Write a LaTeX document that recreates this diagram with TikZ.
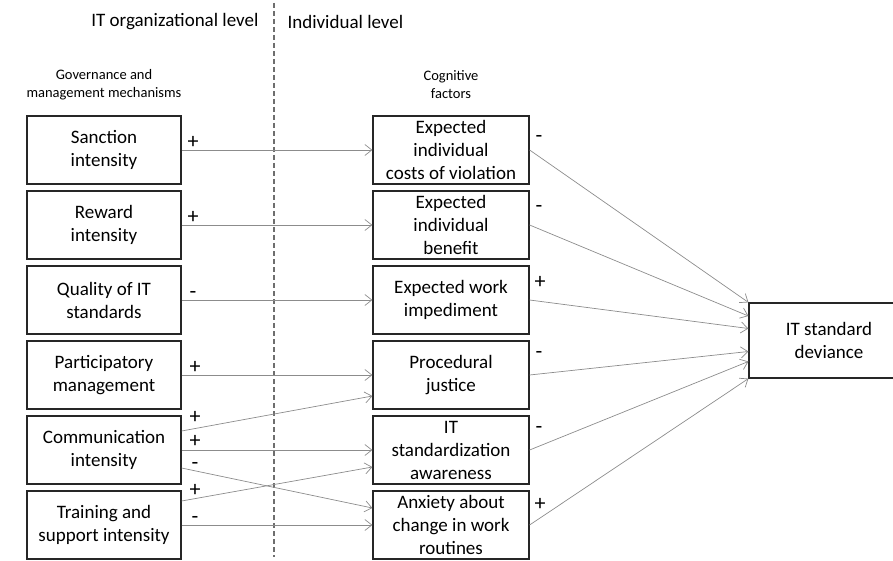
\documentclass[tikz,border=0pt]{standalone}
\usepackage{fontspec}
\setmainfont{Carlito}
\usepackage{xcolor}
\usepackage{tikz}
\usetikzlibrary{positioning,arrows.meta,calc}
\definecolor{mBoxLine}{HTML}{262626}
\definecolor{mArrow}{HTML}{8C8C8C}
\definecolor{mDash}{HTML}{6E6E6E}

\begin{document}
\begin{tikzpicture}[x=1pt, y=-1pt, font=\fontsize{19}{23}\selectfont,
  box/.style={draw=mBoxLine, line width=1.2pt, minimum width=154pt, minimum height=68pt, inner sep=2pt, align=center},
  link/.style={draw=mArrow, line width=0.7pt, -{Straight Barb[length=7pt,width=11pt]}},
  sign/.style={inner sep=0pt, text height=1.2ex, text depth=0pt, yshift=-3pt, font=\fontsize{22}{26}\selectfont},
  small/.style={font=\fontsize{14.5}{18}\selectfont, align=center}]
\useasboundingbox (0,0) rectangle (893,561);
\clip (0,0) rectangle (893,561);
% levels
\draw[mDash, line width=1.3pt, dash pattern=on 5pt off 3pt] (274,3) -- (274,557);
\node[anchor=east] (orglvl) at (262,22) {IT organizational level};
\node[anchor=west] (indlvl) at (284,22) {Individual level};
\node[small] (gov) at (104,85) {Governance and\\management mechanisms};
\node[small] (cog) at (451,85) {Cognitive\\factors};
% mechanisms
\node[box] (SI) at (104,150) {Sanction\\intensity};
\node[box] (RI) at (104,225) {Reward\\intensity};
\node[box] (QS) at (104,300) {Quality of IT\\standards};
\node[box] (PM) at (104,375) {Participatory\\management};
\node[box] (CI) at (104,450) {Communication\\intensity};
\node[box] (TS) at (104,525) {Training and\\support intensity};
% cognitive factors
\node[box, minimum width=156pt] (EC) at (451,150) {Expected\\individual\\costs of violation};
\node[box, minimum width=156pt] (EB) at (451,225) {Expected\\individual\\benefit};
\node[box, minimum width=156pt] (EW) at (451,300) {Expected work\\impediment};
\node[box, minimum width=156pt] (PJ) at (451,375) {Procedural\\justice};
\node[box, minimum width=156pt] (SA) at (451,450) {IT\\standardization\\awareness};
\node[box, minimum width=156pt] (AC) at (451,525) {Anxiety about\\change in work\\routines};
% outcome
\node[box, minimum width=160pt, minimum height=75pt] (DEV) at (829,340.5) {IT standard\\deviance};
% mechanisms -> factors
\draw[link] (SI.east) -- (EC.west);
\draw[link] (RI.east) -- (EB.west);
\draw[link] (QS.east) -- (EW.west);
\draw[link] (PM.east) -- (PJ.west);
\draw[link] ($(CI.east)+(0,-19)$) -- ($(PJ.west)+(0,21)$);
\draw[link] (CI.east) -- (SA.west);
\draw[link] ($(CI.east)+(0,18)$) -- ($(AC.west)+(0,-17)$);
\draw[link] ($(TS.east)+(0,-24)$) -- ($(SA.west)+(0,17)$);
\draw[link] (TS.east) -- (AC.west);
% factors -> deviance
\draw[link] (EC.east) -- (DEV.north west);
\draw[link] (EB.east) -- ($(DEV.west)+(0,-24.5)$);
\draw[link] (EW.east) -- ($(DEV.west)+(0,-12)$);
\draw[link] (PJ.east) -- ($(DEV.west)+(0,11)$);
\draw[link] (SA.east) -- ($(DEV.west)+(0,21)$);
\draw[link] (AC.east) -- (DEV.south west);
% signs
\node[sign] (s1) at (193,143) {+};
\node[sign] (s2) at (193,218) {+};
\node[sign] (s3) at (193,293) {-};
\node[sign] (s4) at (195,368) {+};
\node[sign] (s5) at (195,418) {+};
\node[sign] (s6) at (195,442) {+};
\node[sign] (s7) at (195,464) {-};
\node[sign] (s8) at (195,491) {+};
\node[sign] (s9) at (195,518) {-};
\node[sign] (s10) at (539,137) {-};
\node[sign] (s11) at (539,207) {-};
\node[sign] (s12) at (540,283) {+};
\node[sign] (s13) at (539,353) {-};
\node[sign] (s14) at (539,428) {-};
\node[sign] (s15) at (540,505) {+};
\end{tikzpicture}
\end{document}
